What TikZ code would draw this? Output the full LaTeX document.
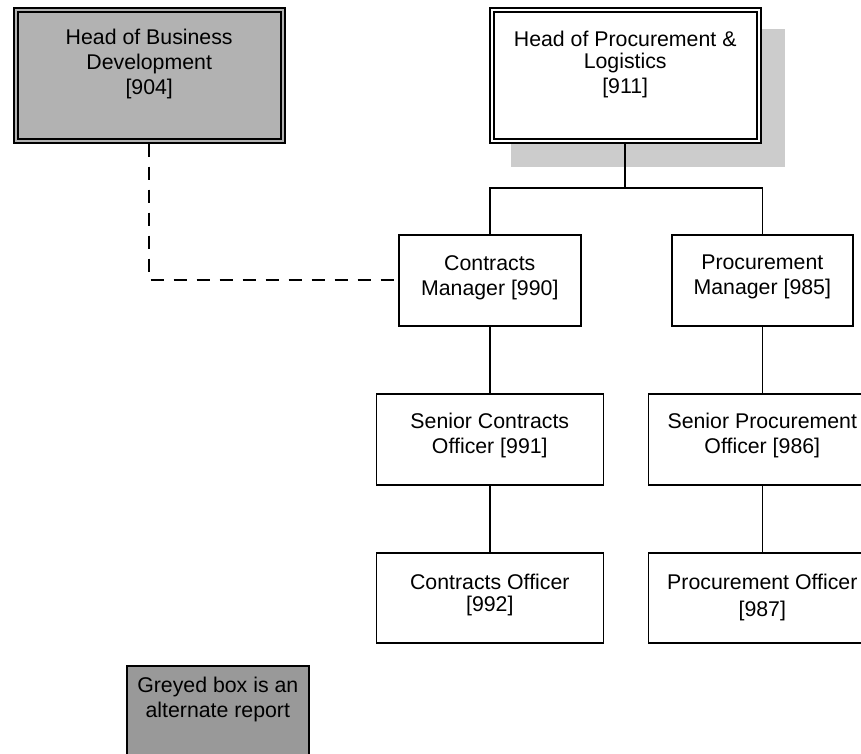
\documentclass[tikz,border=0pt]{standalone}
\usepackage{fontspec}
\setmainfont{Liberation Sans}
\usepackage{xcolor}
\usetikzlibrary{positioning,backgrounds}
\definecolor{altgrey}{gray}{0.70}
\definecolor{keygrey}{gray}{0.60}
\definecolor{shadowgrey}{gray}{0.80}
% width, height, top padding, text
\newcommand{\boxtext}[4]{\begin{minipage}[t][#2][t]{#1}\centering\vspace*{#3}#4\end{minipage}}

\begin{document}
\begin{tikzpicture}[
  x=1pt, y=-1pt,
  every node/.style={font=\fontsize{21.3}{25}\selectfont},
  box/.style={draw, line width=1.6pt, fill=white, inner sep=0pt},
  headbox/.style={box, line width=1.8pt, double=white, double distance=2.2pt, outer sep=2.9pt},
  altbox/.style={headbox, fill=altgrey, double=altgrey},
  keybox/.style={box, fill=keygrey},
  link/.style={line width=1.6pt},
  altlink/.style={line width=1.8pt, dash pattern=on 13pt off 10pt}
]
\useasboundingbox (0,0) rectangle (861,753);
\clip (0,0) rectangle (861,753);

% Top row: heads
\node[altbox, anchor=north west] (hbd) at (12.8,7.4)
  {\boxtext{267pt}{130.5pt}{18.3pt}{Head of Business\\Development\\{}[904]}};
\node[headbox, anchor=north west] (hpl) at (488.8,7.4)
  {\boxtext{267pt}{130.5pt}{21pt}{Head of Procurement \&\\[-3pt]Logistics\\{}[911]}};

% Managers
\node[box, anchor=north west] (cm) at (398,234)
  {\boxtext{182pt}{91pt}{20.5pt}{Contracts\\Manager [990]}};
\node[box, right=89.4pt of cm] (pm)
  {\boxtext{181pt}{91pt}{20.5pt}{Procurement\\Manager [985]}};

% Officers
\node[box, below=66.4pt of cm] (sco)
  {\boxtext{227pt}{91pt}{19pt}{Senior Contracts\\Officer [991]}};
\node[box, below=66.4pt of sco] (co)
  {\boxtext{227pt}{90pt}{21pt}{Contracts Officer\\[-3pt]{}[992]}};
\node[box, below=66.4pt of pm] (spo)
  {\boxtext{228pt}{91pt}{19pt}{Senior Procurement\\Officer [986]}};
\node[box, below=66.4pt of spo] (po)
  {\boxtext{228pt}{90pt}{21pt}{Procurement Officer\\[2pt]{}[987]}};

% Key
\node[keybox, anchor=north west] (key) at (126,665)
  {\boxtext{182pt}{91pt}{11.5pt}{Greyed box is an\\alternate report}};

% Shadow behind the head box
\begin{scope}[on background layer]
  \fill[white] (0,0) rectangle (861,753);
  \fill[shadowgrey] ([shift={(22,22)}]hpl.north west) rectangle ([shift={(23,23)}]hpl.south east);
\end{scope}

% Reporting lines
\draw[link] (hpl.south) -- ++(0,44) coordinate (fork) -| (cm.north);
\draw[link] (fork) -| (pm.north);
\draw[link] (cm.south) -- (sco.north);
\draw[link] (sco.south) -- (co.north);
\draw[link] (pm.south) -- (spo.north);
\draw[link] (spo.south) -- (po.north);

% Alternate report
\draw[altlink] (hbd.south) |- (cm.west);
\end{tikzpicture}
\end{document}
